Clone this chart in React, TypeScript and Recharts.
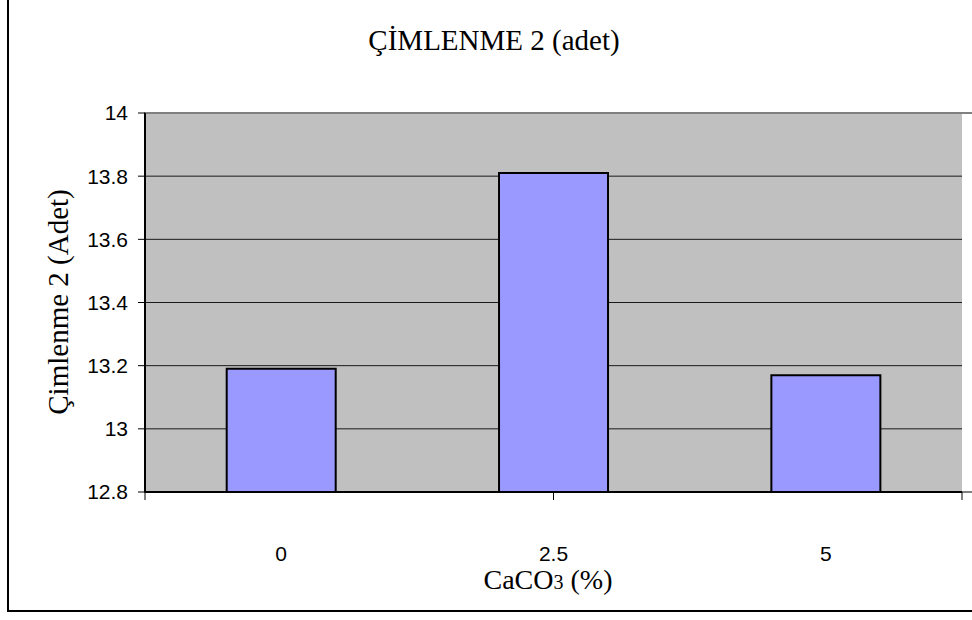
import { BarChart, Bar, XAxis, YAxis, CartesianGrid, ReferenceArea } from 'recharts';

const categories = ['0', '2.5', '5'];
const germination = [13.19, 13.81, 13.17];
const yTicks = [12.8, 13, 13.2, 13.4, 13.6, 13.8, 14];
const boundaryTicks = [0, 1, 2, 3];

const chartData = categories.map((name, i) => ({ name, value: germination[i] }));

const serif = '"Liberation Serif", "Times New Roman", serif';
const sans = '"Liberation Sans", Arial, sans-serif';

// category labels sit well below the axis, centred under each bar
function CategoryTick(props: any) {
  const { x, y, payload } = props;
  return (
    <text x={x} y={y} dy={15} textAnchor="middle" fill="#000" fontSize={21} fontFamily={sans}>
      {payload.value}
    </text>
  );
}

export default function App() {
  return (
    <div style={{ position: 'absolute', left: 0, top: 0, width: 972, height: 620, overflow: 'hidden', background: '#fff' }}>
      {/* chart frame: only left and bottom edges fall inside the page */}
      <div
        style={{
          position: 'absolute',
          left: 7,
          top: -4,
          width: 990,
          height: 616,
          border: '2px solid #000',
          boxSizing: 'border-box',
        }}
      />
      <BarChart
        width={972}
        height={620}
        data={chartData}
        margin={{ top: 113, right: 10, bottom: 58, left: 85 }}
        barCategoryGap="30%"
        style={{ position: 'absolute', left: 0, top: 0 }}
      >
        <CartesianGrid
          xAxisId="cat"
          vertical={false}
          fill="#C0C0C0"
          stroke="#1a1a1a"
          strokeWidth={1}
          fillOpacity={1}
        />
        <ReferenceArea
          xAxisId="b"
          x1={0}
          x2={3}
          y1={12.8}
          y2={14}
          fill="none"
          stroke="#808080"
          strokeWidth={2}
          ifOverflow="visible"
        />
        <XAxis
          xAxisId="b"
          type="number"
          domain={[0, 3]}
          ticks={boundaryTicks}
          height={1}
          tickSize={8}
          tickFormatter={() => ''}
          stroke="#000"
          axisLine={{ stroke: '#000', strokeWidth: 2 }}
          tickLine={{ stroke: '#000' }}
          allowDataOverflow
        />
        <XAxis
          xAxisId="cat"
          dataKey="name"
          height={69}
          axisLine={false}
          tickLine={false}
          tickMargin={47}
          tick={<CategoryTick />}
        />
        <YAxis
          width={60}
          domain={[12.8, 14]}
          ticks={yTicks}
          allowDataOverflow
          tickSize={7}
          tickMargin={10}
          axisLine={{ stroke: '#000', strokeWidth: 2 }}
          tickLine={{ stroke: '#000' }}
          tick={{ fill: '#000', fontSize: 21, fontFamily: sans }}
        />
        <Bar
          xAxisId="cat"
          dataKey="value"
          fill="#9999FF"
          stroke="#000"
          strokeWidth={2}
          isAnimationActive={false}
        />
      </BarChart>
      <div
        style={{
          position: 'absolute',
          left: 294,
          width: 400,
          top: 22,
          textAlign: 'center',
          fontFamily: serif,
          fontSize: 29,
          color: '#000',
          lineHeight: '36px',
        }}
      >
        ÇİMLENME 2 (adet)
      </div>
      <div
        style={{
          position: 'absolute',
          left: 58,
          top: 302,
          transform: 'translate(-50%, -50%) rotate(-90deg)',
          whiteSpace: 'nowrap',
          fontFamily: serif,
          fontSize: 29,
          color: '#000',
          lineHeight: '36px',
        }}
      >
        Çimlenme 2 (Adet)
      </div>
      <div
        style={{
          position: 'absolute',
          left: 348,
          width: 400,
          top: 566,
          textAlign: 'center',
          fontFamily: serif,
          fontSize: 28,
          color: '#000',
          lineHeight: '28px',
        }}
      >
        CaCO<span style={{ fontSize: 20 }}>3</span> (%)
      </div>
    </div>
  );
}
